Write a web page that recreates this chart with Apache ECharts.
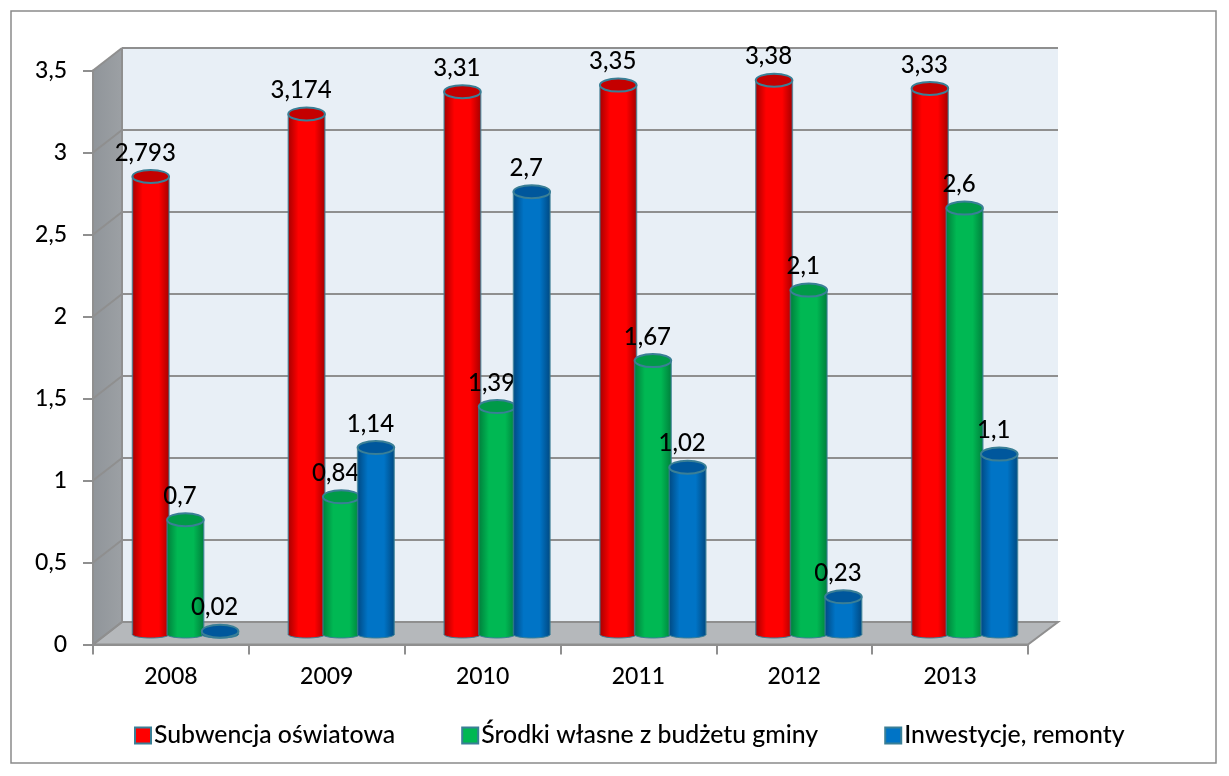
<!DOCTYPE html>
<html>
<head>
<meta charset="utf-8">
<style>html,body{margin:0;padding:0;background:#fff}#c{width:1229px;height:776px}</style>
<script src="https://cdn.jsdelivr.net/npm/echarts@6/dist/echarts.min.js"></script>
</head>
<body>
<div id="c"></div>
<script>
const categories = ['2008','2009','2010','2011','2012','2013'];
const subwencja = [2.793,3.174,3.31,3.35,3.38,3.33];
const srodki = [0.7,0.84,1.39,1.67,2.1,2.6];
const inwestycje = [0.02,1.14,2.7,1.02,0.23,1.1];
const yTicks = [0,0.5,1,1.5,2,2.5,3,3.5];
const names = ['Subwencja oświatowa','Środki własne z budżetu gminy','Inwestycje, remonty'];

const FONT = 'Lato';
const fmt = v => String(v).replace('.', ',');
const F = {l:93, t:70.5, w:935, h:574};     // front plane
const B = {l:122, t:48, w:936, h:574};      // back wall
const M = {l:107.5, t:60.5, w:935, h:574};  // plane of the columns
const yOf = (g, v) => g.t + g.h * (1 - v / 3.5);
const EDGE = '#3a7f96', AX = '#8f8f8f';

const palette = [
  {edge:'#a80000', mid:'#ff0000', top:'#c40000'},
  {edge:'#00803c', mid:'#00b853', top:'#009a48'},
  {edge:'#004a84', mid:'#0074c6', top:'#00579c'}
];
const bodyFill = p => ({type:'linear',x:0,y:0,x2:1,y2:0,colorStops:[
  {offset:0,color:p.edge},{offset:.28,color:p.mid},{offset:.72,color:p.mid},{offset:1,color:p.edge}]});

function cylinder(si){
  const p = palette[si];
  return function(params, api){
    const top = api.coord([api.value(0), api.value(1)]);
    const base = api.coord([api.value(0), 0]);
    const band = api.size([1,0])[0];
    const cx = top[0] + (si - 1) * band * 0.2225;
    const w = band * 0.235, rx = w / 2, ry = 6.5;
    const v = api.value(1);
    return {type:'group', children:[
      {type:'ellipse', shape:{cx:cx, cy:base[1], rx:rx, ry:3.5},
        style:{fill:bodyFill(p), stroke:EDGE, lineWidth:1}},
      {type:'rect', shape:{x:cx-rx, y:top[1], width:w, height:base[1]-top[1]},
        style:{fill:bodyFill(p), stroke:null}},
      {type:'line', shape:{x1:cx-rx, y1:top[1], x2:cx-rx, y2:base[1]}, style:{stroke:EDGE, lineWidth:1.5, opacity:.7}},
      {type:'line', shape:{x1:cx+rx, y1:top[1], x2:cx+rx, y2:base[1]}, style:{stroke:EDGE, lineWidth:1.5, opacity:.7}},
      {type:'ellipse', shape:{cx:cx, cy:top[1], rx:rx, ry:ry},
        style:{fill:p.top, stroke:EDGE, lineWidth:2}},
      {type:'text', x:cx-5.5, y:top[1]-23.5, z2:50,
        style:{text:fmt(v), fill:'#000', font:'500 24px '+FONT, align:'center', verticalAlign:'middle'}}
    ]};
  };
}

const decor = [
  {type:'rect', shape:{x:11,y:11,width:1205,height:752}, style:{fill:'#fff',stroke:'#8a8a8a',lineWidth:1.5}},
  {type:'rect', shape:{x:B.l,y:B.t,width:B.w,height:B.h}, style:{fill:'#e8eff6'}},
  {type:'polygon', shape:{points:[[F.l,F.t],[B.l,B.t],[B.l,B.t+B.h],[F.l,F.t+F.h]]},
    style:{fill:{type:'linear',x:0,y:0,x2:1,y2:0,colorStops:[{offset:0,color:'#90959a'},{offset:1,color:'#9ca0a4'}]}}},
  {type:'polygon', shape:{points:[[F.l,F.t+F.h],[B.l,B.t+B.h],[B.l+B.w,B.t+B.h],[F.l+F.w,F.t+F.h]]},
    style:{fill:'#b5b8bb', stroke:AX, lineWidth:2}}
];
yTicks.forEach(v => decor.push({type:'line',
  shape:{x1:F.l,y1:yOf(F,v),x2:B.l,y2:yOf(B,v)}, style:{stroke:AX,lineWidth:2}}));
decor.push({type:'line', shape:{x1:B.l,y1:B.t,x2:B.l,y2:B.t+B.h}, style:{stroke:AX,lineWidth:2}});

const chart = echarts.init(document.getElementById('c'), null, {renderer:'canvas'});
chart.setOption({
  animation:false,
  backgroundColor:'#fff',
  graphic:{elements:decor.map(d => Object.assign({z:-10, silent:true}, d))},
  textStyle:{fontFamily:FONT},
  legend:{
    left:129, top:718, itemWidth:16, itemHeight:16, itemGap:66,
    icon:'rect', selectedMode:false, data:names,
    textStyle:{fontFamily:FONT, fontWeight:500, fontSize:24.8, color:'#000', padding:[0,0,0,-2]}
  },
  grid:[
    {left:F.l, top:F.t, width:F.w, height:F.h},
    {left:B.l, top:B.t, width:B.w, height:B.h},
    {left:M.l, top:M.t, width:M.w, height:M.h}
  ],
  xAxis:[
    {gridIndex:0, type:'category', data:categories, boundaryGap:true,
      axisLine:{lineStyle:{color:AX,width:2}},
      axisTick:{show:true, alignWithLabel:false, length:10, lineStyle:{color:AX,width:2}},
      axisLabel:{color:'#000', fontFamily:FONT, fontWeight:500, fontSize:23, margin:21}},
    {gridIndex:1, type:'category', data:categories, show:false},
    {gridIndex:2, type:'category', data:categories, show:false}
  ],
  yAxis:[
    {gridIndex:0, type:'value', min:0, max:3.5, interval:0.5,
      axisLine:{show:true, lineStyle:{color:AX,width:2}},
      axisTick:{show:true, length:10, lineStyle:{color:AX,width:2}},
      splitLine:{show:false},
      axisLabel:{color:'#000', fontFamily:FONT, fontWeight:500, fontSize:23, margin:26, padding:[2,0,0,0], formatter:fmt}},
    {gridIndex:1, type:'value', min:0, max:3.5, interval:0.5,
      axisLine:{show:false}, axisTick:{show:false}, axisLabel:{show:false},
      splitLine:{show:true, lineStyle:{color:AX,width:2}}},
    {gridIndex:2, type:'value', min:0, max:3.5, interval:0.5, show:false}
  ],
  series:[subwencja, srodki, inwestycje].map((vals, si) => ({
    type:'custom', name:names[si], xAxisIndex:2, yAxisIndex:2,
    coordinateSystem:'cartesian2d', clip:false, z:5+si,
    encode:{x:0, y:1},
    itemStyle:{color:palette[si].mid, borderColor:EDGE, borderWidth:2},
    data:vals.map((v,i) => [i,v]),
    renderItem:cylinder(si)
  }))
});
</script>
</body>
</html>
